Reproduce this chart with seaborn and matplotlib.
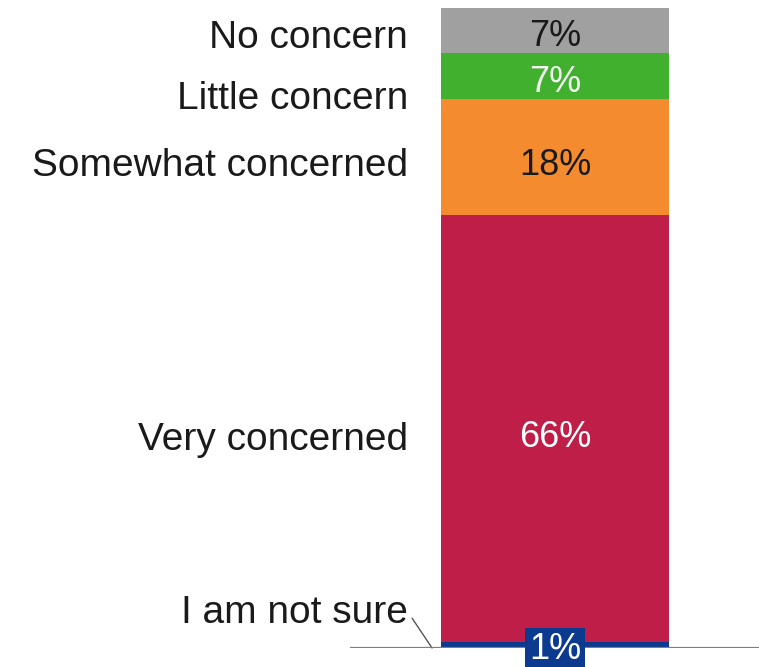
import matplotlib
matplotlib.use("Agg")
import matplotlib.pyplot as plt
import seaborn as sns
import pandas as pd
import numpy as np

# Data (bottom to top)
categories = ["I am not sure", "Very concerned", "Somewhat concerned", "Little concern", "No concern"]
values = [1, 66, 18, 7, 7]
value_labels = ["1%", "66%", "18%", "7%", "7%"]
colors = ["#0B3A8E", "#BE1E48", "#F48B2E", "#42B02F", "#A0A0A0"]
text_colors = ["white", "white", "#1a1a1a", "#F2F2F2", "#1a1a1a"]

sns.set_theme(style="white")
plt.rcParams["font.family"] = ["Liberation Sans", "DejaVu Sans"]

W, H = 759, 667
fig = plt.figure(figsize=(W / 100, H / 100), dpi=100)
ax = fig.add_axes([350 / W, 19 / H, 409 / W, 648 / H])

df = pd.DataFrame({"group": ["all"] * len(values), "cat": categories, "value": values})
bottoms = np.concatenate([[0], np.cumsum(values)[:-1]])
for i, (cat, v) in enumerate(zip(categories, values)):
    sub = df[df["cat"] == cat]
    sns.barplot(data=sub, x="group", y="value", color=colors[i], bottom=bottoms[i],
                width=0.8, ax=ax, saturation=1, linewidth=0, errorbar=None)

px_per_unit = 640 / 99
ax.set_xlim(-0.719, 409 / 285 - 0.719)
ax.set_ylim(0, 648 / px_per_unit)
ax.axis("off")

# baseline
ax.axhline(0, color="#7f7f7f", lw=1.6, zorder=3)

# value labels in bar
label_shift = [0, 1.5, 1.3, 1.0, 0.9]
for i, (v, lab) in enumerate(zip(values, value_labels)):
    center = bottoms[i] + v / 2
    if i == 0:
        ax.text(0, -0.3, lab, ha="center", va="center", fontsize=26, color="white",
                zorder=5, clip_on=False,
                bbox=dict(boxstyle="square,pad=0.12", facecolor=colors[0], edgecolor="none"))
    else:
        ax.text(0, center - label_shift[i], lab, ha="center", va="center", fontsize=26,
                color=text_colors[i], zorder=5)

# category labels on the left
label_y = [5.4, 32.2, 74.5, 85.0, 94.4]
for cat, y in zip(categories, label_y):
    ax.text(-0.515, y, cat, ha="right", va="center", fontsize=28, color="#1a1a1a")

# leader line for "I am not sure"
ax.plot([-0.501, -0.431], [4.6, 0], color="#555555", lw=1, clip_on=False)

fig.savefig("out.png", dpi=100)
